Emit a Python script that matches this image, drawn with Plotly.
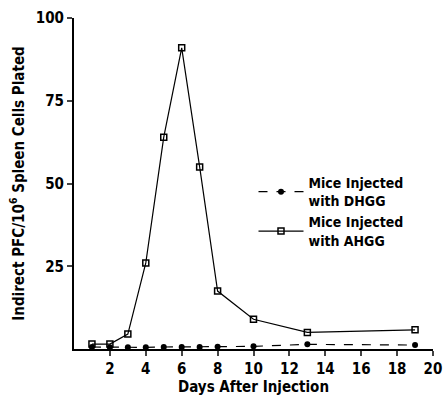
import plotly.graph_objects as go

days = [1, 2, 3, 4, 5, 6, 7, 8, 10, 13, 19]
dhgg = [0.6, 0.5, 0.5, 0.5, 0.6, 0.6, 0.6, 0.7, 0.8, 1.4, 1.2]
ahgg = [1.5, 1.5, 4.5, 26, 64, 91, 55, 17.5, 9, 5, 5.8]
xticks = [2, 4, 6, 8, 10, 12, 14, 16, 18, 20]
yticks = [25, 50, 75, 100]

FONT = "DejaVu Sans Condensed, Liberation Sans Narrow, Arial Narrow, sans-serif"

fig = go.Figure()
fig.add_trace(go.Scatter(
    x=days, y=dhgg, mode="lines+markers", name="<b>Mice Injected<br>with DHGG</b>",
    line=dict(color="black", width=1.2, dash="dash"),
    marker=dict(symbol="circle", size=6, color="black"),
))
fig.add_trace(go.Scatter(
    x=days, y=ahgg, mode="lines+markers", name="<b>Mice Injected<br>with AHGG</b>",
    line=dict(color="black", width=1.2),
    marker=dict(symbol="square-open", size=6, color="black", line=dict(width=1.5)),
))

fig.update_layout(
    width=443, height=396,
    margin=dict(l=74, r=10, t=18, b=47),
    paper_bgcolor="white", plot_bgcolor="white",
    font=dict(family=FONT, color="black", size=14),
    showlegend=True,
    legend=dict(x=0.5, y=0.55, xanchor="left", yanchor="top",
                bgcolor="rgba(0,0,0,0)", font=dict(size=14, family=FONT),
                itemwidth=45, tracegroupgap=0),
    xaxis=dict(range=[0, 20], tickvals=xticks, ticktext=["<b>%d</b>" % v for v in xticks],
               ticks="outside", ticklen=5,
               tickwidth=1.5, showline=True, linewidth=2, linecolor="black",
               showgrid=False, zeroline=False, automargin=False,
               tickfont=dict(size=15, family=FONT),
               title=dict(text="<b>Days After Injection</b>", font=dict(size=15, family=FONT), standoff=6)),
    yaxis=dict(range=[0, 100], tickvals=yticks, ticktext=["<b>%d</b>" % v for v in yticks],
               ticks="outside", ticklen=5, tickwidth=1.5, showline=True, linewidth=2,
               linecolor="black", showgrid=False, zeroline=False, automargin=False,
               tickfont=dict(size=15, family=FONT),
               title=dict(text="<b>Indirect PFC/10<sup>6</sup> Spleen Cells Plated</b>",
                          font=dict(size=15, family=FONT), standoff=8)),
)

fig.write_html("out.html")
